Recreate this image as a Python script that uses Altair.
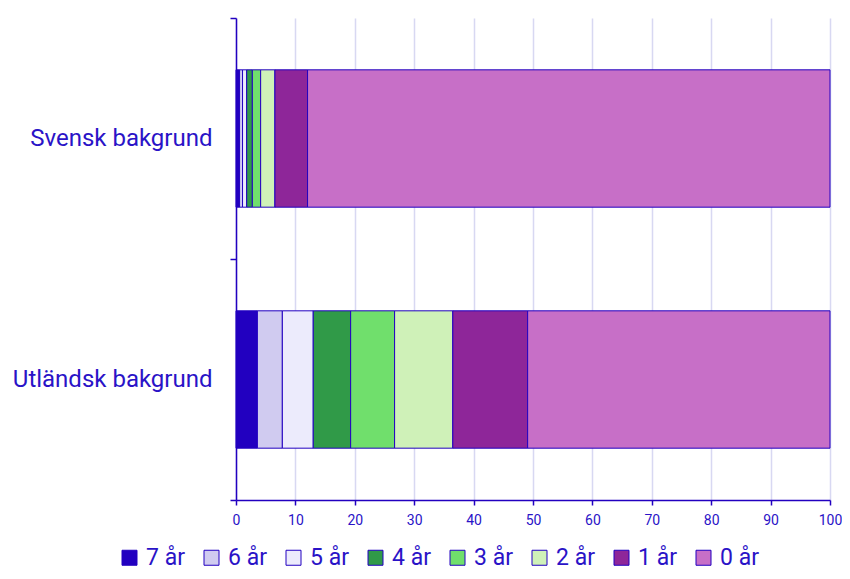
import altair as alt
import pandas as pd

groups = ["Svensk bakgrund", "Utländsk bakgrund"]
series = ["7 år", "6 år", "5 år", "4 år", "3 år", "2 år", "1 år", "0 år"]
colors = ["#2200c0", "#d0cbf0", "#ecebfc", "#309a48", "#70df6c", "#cff1b8", "#8e2699", "#c76fc7"]
svensk = [0.6, 0.5, 0.7, 0.95, 1.4, 2.4, 5.5, 87.95]
utlandsk = [3.6, 4.2, 5.2, 6.3, 7.4, 9.8, 12.6, 50.9]

rows = []
for g, vals in zip(groups, [svensk, utlandsk]):
    for i, (s, v) in enumerate(zip(series, vals)):
        rows.append({"grupp": g, "serie": s, "varde": v, "ordning": i})
df = pd.DataFrame(rows)

blue = "#2a13c7"
font = "Roboto"

chart = alt.Chart(df).mark_bar(
    height=alt.RelativeBandSize(0.57), stroke="#2200c0", strokeWidth=1
).encode(
    y=alt.Y("grupp:N", sort=groups, title=None,
            scale=alt.Scale(paddingInner=0, paddingOuter=0),
            axis=alt.Axis(tickBand="extent", labelFontSize=24, labelColor=blue,
                          labelFont=font, domainColor="#2200c0", tickColor="#2200c0",
                          tickSize=6, labelPadding=18, grid=False, domainWidth=1.5,
                          tickWidth=1.5, labelLimit=400)),
    x=alt.X("varde:Q", stack="zero", title=None,
            scale=alt.Scale(domain=[0, 100], nice=False),
            axis=alt.Axis(values=list(range(0, 101, 10)), labelFontSize=14,
                          labelColor=blue, labelFont=font, domainColor="#2200c0",
                          tickColor="#2200c0", tickSize=5, domainWidth=1.5, tickWidth=1.5,
                          gridColor="#d8d8f2", gridWidth=1.5, labelPadding=8,
                          labelFlush=False)),
    color=alt.Color("serie:N", sort=series,
                    scale=alt.Scale(domain=series, range=colors),
                    legend=alt.Legend(orient="none", legendX=-118, legendY=528,
                                      direction="horizontal", title=None,
                                      symbolType="square", symbolSize=225,
                                      symbolStrokeColor="#2200c0", symbolStrokeWidth=1,
                                      labelFontSize=23, labelColor=blue, labelFont=font,
                                      columnPadding=15, labelOffset=5, padding=0)),
    order=alt.Order("ordning:Q"),
).properties(
    width=594, height=482,
    autosize=alt.AutoSizeParams(type="none"),
    padding={"left": 228, "top": 10, "right": 12, "bottom": 71},
).configure_view(stroke=None)

chart.save("out.html", embed_options={"renderer": "svg", "actions": False})
